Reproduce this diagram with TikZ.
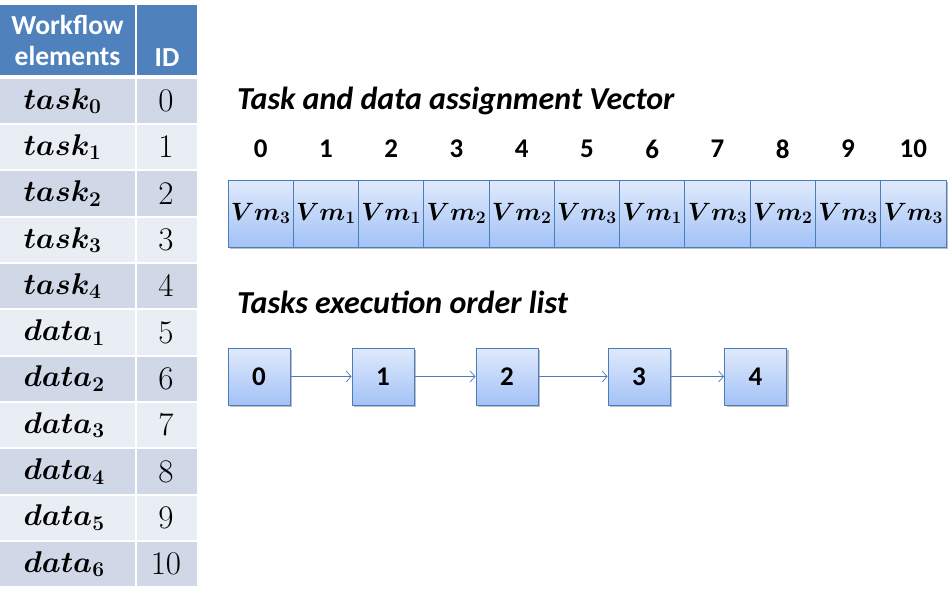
\documentclass[tikz,border=0pt]{standalone}
\usepackage{fix-cm}
\usepackage[no-math]{fontspec}
\setmainfont{Carlito}
\usepackage{amsmath,bm}
\usetikzlibrary{shadows,arrows.meta}
\definecolor{hdr}{HTML}{4F81BD}
\definecolor{rowa}{HTML}{D0D8E8}
\definecolor{rowb}{HTML}{E9EDF4}
\definecolor{boxline}{HTML}{4A7EBB}
\definecolor{gtop}{HTML}{E0EAFC}
\definecolor{gbot}{HTML}{A3C2F6}
\tikzset{
  hdrcell/.style={fill=hdr, draw=none, text=white, font=\fontsize{27.5}{31}\selectfont\bfseries, align=center, inner sep=0pt},
  cella/.style={fill=rowa, draw=none, inner sep=0pt},
  cellb/.style={fill=rowb, draw=none, inner sep=0pt},
  tabmath/.style={font=\fontsize{30}{33}\selectfont},
  tabnum/.style={font=\fontsize{33}{36}\selectfont},
  vecmath/.style={font=\fontsize{25}{28}\selectfont},
  gbox/.style={draw=boxline, line width=0.9pt, top color=gtop, bottom color=gbot, inner sep=0pt,
     drop shadow={shadow xshift=2pt, shadow yshift=-2pt, fill=black, opacity=0.25}},
  idxlbl/.style={font=\fontsize{27}{30}\selectfont\bfseries},
  ttl/.style={font=\fontsize{32}{36}\selectfont\bfseries\itshape, anchor=west, inner sep=0pt},
  conn/.style={draw=boxline, line width=0.9pt, -{Straight Barb[length=5pt,width=11pt,line width=0.7pt]}}
}
\begin{document}
\begin{tikzpicture}[x=1pt,y=-1pt]
\useasboundingbox (0,0) rectangle (951,602);
% header
\node[hdrcell, minimum width=135pt, minimum height=70pt] (h1) at (67.5,40) {Workflow\\elements};
\node[hdrcell, minimum width=60pt, minimum height=70pt, anchor=center] (h2) at (167,40) {\strut\\ID};
% rows
\foreach \i/\lab in {0/{task_0},1/{task_1},2/{task_2},3/{task_3},4/{task_4},5/{data_1},6/{data_2},7/{data_3},8/{data_4},9/{data_5},10/{data_6}}{
  \pgfmathsetmacro{\yc}{101+46.3*\i}
  \pgfmathtruncatemacro{\parity}{mod(\i,2)}
  \ifnum\parity=0 \def\st{cella}\else\def\st{cellb}\fi
  \node[\st, minimum width=135pt, minimum height=44.3pt] (e\i) at (67.5,\yc) {};
  \node[\st, minimum width=60pt, minimum height=44.3pt] (d\i) at (167,\yc) {};
  \node[tabmath, anchor=west] (et\i) at (20,\yc) {$\bm{\lab}$};
  \node[tabnum] (dt\i) at (166,\yc) {$\i$};
}
% title 1
\node[ttl] (t1) at (237,101) {Task and data assignment Vector};
% vector
\foreach \i/\v in {0/3,1/1,2/1,3/2,4/2,5/3,6/1,7/3,8/2,9/3,10/3}{
  \pgfmathsetmacro{\xc}{228+65.27*\i+32.635}
  \node[idxlbl] (n\i) at (\xc,149) {\i};
  \node[gbox, minimum width=65.27pt, minimum height=67pt] (v\i) at (\xc,213.5) {};
  \node[vecmath] (vt\i) at (\xc,213.5) {$\bm{Vm_{\v}}$};
}
% title 2
\node[ttl] (t2) at (237,302) {Tasks execution order list};
% order list
\foreach \i/\x in {0/259,1/383,2/507,3/639,4/755.5}{
  \node[gbox, minimum width=62pt, minimum height=57pt, idxlbl] (o\i) at (\x,376.5) {\i};
}
\draw[conn] (o0) -- (o1);
\draw[conn] (o1) -- (o2);
\draw[conn] (o2) -- (o3);
\draw[conn] (o3) -- (o4);
\end{tikzpicture}
\end{document}
